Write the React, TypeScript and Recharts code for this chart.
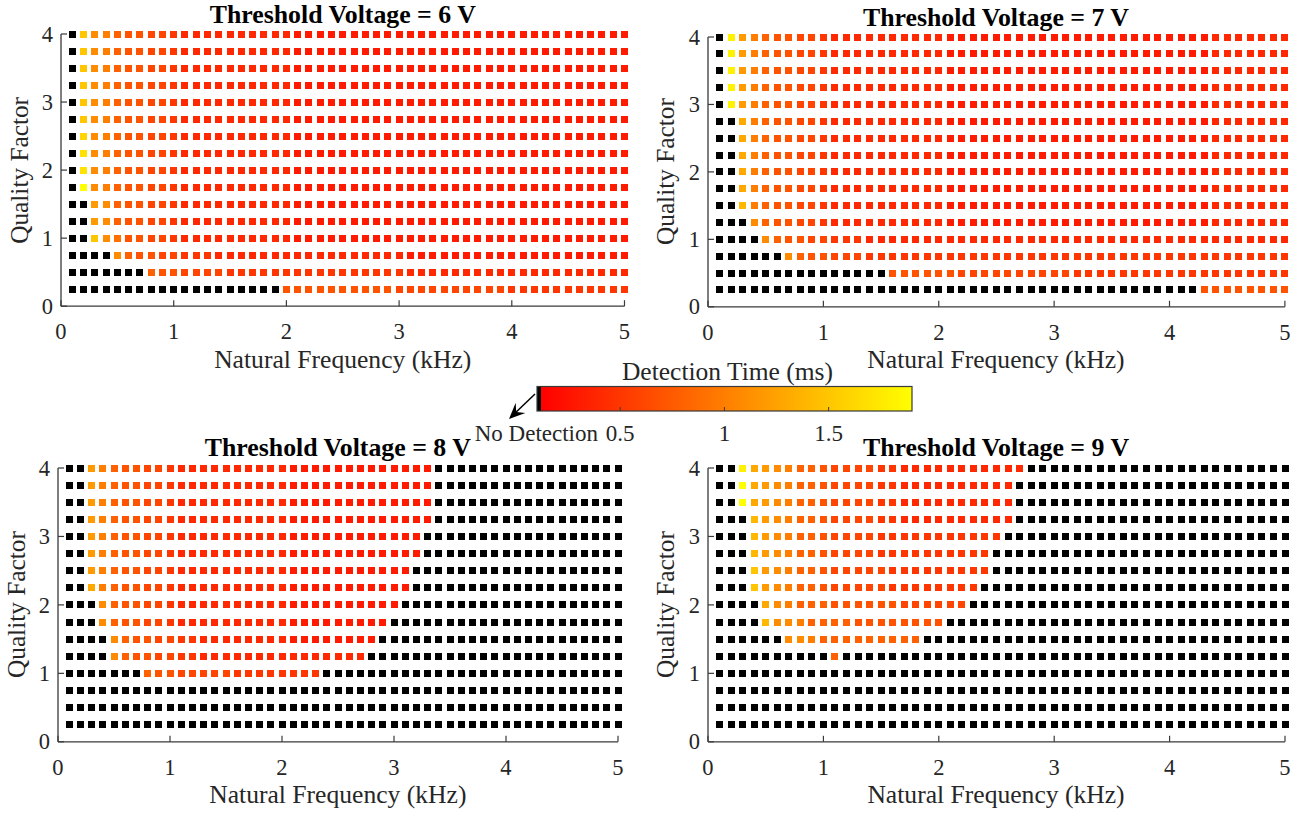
import React from 'react';
import { ScatterChart, Scatter, XAxis, YAxis } from 'recharts';

// Natural frequency grid (kHz) and quality factor grid
const frequencies = [
  0.1, 0.2, 0.3, 0.4, 0.5, 0.6, 0.7, 0.8, 0.9, 1.0,
  1.1, 1.2, 1.3, 1.4, 1.5, 1.6, 1.7, 1.8, 1.9, 2.0,
  2.1, 2.2, 2.3, 2.4, 2.5, 2.6, 2.7, 2.8, 2.9, 3.0,
  3.1, 3.2, 3.3, 3.4, 3.5, 3.6, 3.7, 3.8, 3.9, 4.0,
  4.1, 4.2, 4.3, 4.4, 4.5, 4.6, 4.7, 4.8, 4.9, 5.0,
];
const qualityFactors = [4, 3.75, 3.5, 3.25, 3, 2.75, 2.5, 2.25, 2, 1.75, 1.5, 1.25, 1, 0.75, 0.5, 0.25];
const xTicks = [0, 1, 2, 3, 4, 5];
const yTicks = [0, 1, 2, 3, 4];
const colorbarTicks = [0.5, 1, 1.5];
const thresholdVoltages = [6, 7, 8, 9];

// Detection time per cell, one string per quality-factor row (Q = 4 ... 0.25),
// one character per frequency column (0.1 ... 5.0 kHz).
// '.' = no detection, 'A'..'S' = 0.1 .. 1.9 ms
const detection6V = [
  '.OKJHGGFFE DDDDDDDDDD CCCCCCCCCC CCCCCCCCCC CCCCCCCCCC',
  '.OKJHGGFFE DDDDDDDDDD CCCCCCCCCC CCCCCCCCCC CCCCCCCCCC',
  '.OKJHGGFFE DDDDDDDDDD CCCCCCCCCC CCCCCCCCCC CCCCCCCCCC',
  '.OKJHGGFFE DDDDDDDDDD CCCCCCCCCC CCCCCCCCCC CCCCCCCCCC',
  '.OKJHGGFFE DDDDDDDDDD CCCCCCCCCC CCCCCCCCCC CCCCCCCCCC',
  '.OKJHGGFFE DDDDDDDDDD CCCCCCCCCC CCCCCCCCCC CCCCCCCCCC',
  '.PKJHGGFFE DDDDDDDDDD CCCCCCCCCC CCCCCCCCCC CCCCCCCCCC',
  '.QKJHGGFFE DDDDDDDDDD CCCCCCCCCC CCCCCCCCCC CCCCCCCCCC',
  '.QKJHGGFFE DDDDDDDDDD CCCCCCCCCC CCCCCCCCCC CCCCCCCCCC',
  '.SKJHGGFFE DDDDDDDDDD CCCCCCCCCC CCCCCCCCCC CCCCCCCCCC',
  '..LKHGGFFE DDDDDDDDDD CCCCCCCCCC CCCCCCCCCC CCCCCCCCCC',
  '..LKHGGFFE DDDDDDDDDD CCCCCCCCCC CCCCCCCCCC CCCCCCCCCC',
  '..OKIGGFFE DDDDDDDDDD CCCCCCCCCC CCCCCCCCCC CCCCCCCCCC',
  '....KHGGFF EEEDDDDDDD DDDDDDDDDD CCCCCCCCCC CCCCCCCCCC',
  '.......HGG FFFFEEEEEE EEEEEEEEEE DDDDDDDDDD DDDDDDDDDD',
  '.......... .........G GGGGGGGGGF FFFFFFFFFE EEEEEEEEEE',
];

const detection7V = [
  '.RLJHGGFFE DDDDDDDDDD CCCCCCCCCC CCCCCCCCCC CCCDDDDDDD',
  '.RLJHGGFFE DDDDDDDDDD CCCCCCCCCC CCCCCCCCCC CCCDDDDDDD',
  '.RLJHGGFFE DDDDDDDDDD CCCCCCCCCC CCCCCCCCCC CCCDDDDDDD',
  '.RLJHGGFFE DDDDDDDDDD CCCCCCCCCC CCCCCCCCCC CCCDDDDDDD',
  '.RLJHGGFFE DDDDDDDDDD CCCCCCCCCC CCCCCCCCCC CCCDDDDDDD',
  '..MJHGGFFE DDDDDDDDDD CCCCCCCCCC CCCCCCCCCC CCCDDDDDDD',
  '..MJHGGFFE DDDDDDDDDD CCCCCCCCCC CCCCCCCCCC CCCDDDDDDD',
  '..MJHGGFFE DDDDDDDDDD CCCCCCCCCC CCCCCCCCCC CCCDDDDDDD',
  '..MJHGGFFE DDDDDDDDDD CCCCCCCCCC CCCCCCCCCC CCCDDDDDDD',
  '..MJHGGFFE DDDDDDDDDD CCCCCCCCCC CCCCCCCCCC CCCDDDDDDD',
  '..NJHGGFFE DDDDDDDDDD CCCCCCCCCC CCCCCCCCCC CCCDDDDDDD',
  '...KHGGFFE DDDDDDDDDD CCCCCCCCCC CCCCCCCCCC CCCDDDDDDD',
  '....KHGGFF EEEDDDDDDD DDDDDDDDDD DDDDDDDDDD DDDDDDDDDD',
  '......KHGG FFFEEEEEEE EEEEEEEEEE EEEEEEEEEE EEEEEEEEEE',
  '.......... .....GGGGG GFFFFFFFFF FEEEEEEEEE EEEEEEEEEE',
  '.......... .......... .......... .......... ..GGGGGGGG',
];

const detection8V = [
  '..LJHGGFFE DDDDDDDDDD CCCCCCCCCC CCC....... ..........',
  '..LJHGGFFE DDDDDDDDDD CCCCCCCCCC CCC....... ..........',
  '..LJHGGFFE DDDDDDDDDD CCCCCCCCCC CCC....... ..........',
  '..LJHGGFFE DDDDDDDDDD CCCCCCCCCC CCC....... ..........',
  '..LJHGGFFE DDDDDDDDDD CCCCCCCCCC CC........ ..........',
  '..LJHGGFFE DDDDDDDDDD CCCCCCCCCC CC........ ..........',
  '..LJHGGFFE DDDDDDDDDD CCCCCCCCCC C......... ..........',
  '..MJHGGFFE DDDDDDDDDD CCCCCCCCCC C......... ..........',
  '...KHGGFFE DDDDDDDDDD CCCCCCCCCC .......... ..........',
  '...KHGGFFE DDDDDDDDDD CCCCCCCCC. .......... ..........',
  '....KHGGFF EEDDDDDDDD CCCCCCCC.. .......... ..........',
  '....KHGGFF EEDDDDDDDD DDDDDDD... .......... ..........',
  '.......HGG FFFFFEEEEE EEE....... .......... ..........',
  '.......... .......... .......... .......... ..........',
  '.......... .......... .......... .......... ..........',
  '.......... .......... .......... .......... ..........',
];

const detection9V = [
  '..RMLKJHHG FFFFEEDDDD DDDDDDD... .......... ..........',
  '..SMLKJHHG FFFFEEDDDD DDDDDD.... .......... ..........',
  '..SMLKJHHG FFFFEEDDDD DDDDDD.... .......... ..........',
  '...NLKJHHG FFFFEEDDDD DDDDDD.... .......... ..........',
  '...NLKJHHG FFFFEEEEEE EEEEE..... .......... ..........',
  '...NLKJHHG FFFFEEEEEE EEEE...... .......... ..........',
  '...OLKJHHG FFFFFEEEEE EEEE...... .......... ..........',
  '...OLKJHHG FFFFFEEEEE EEE....... .......... ..........',
  '....MKJHHH GGGGGGFFFF FF........ .......... ..........',
  '....NKKJHH HHGGGGGGGG .......... .......... ..........',
  '......KKJH HHHHHHHH.. .......... .......... ..........',
  '.......... H......... .......... .......... ..........',
  '.......... .......... .......... .......... ..........',
  '.......... .......... .......... .......... ..........',
  '.......... .......... .......... .......... ..........',
  '.......... .......... .......... .......... ..........',
];

const panelRows = [detection6V, detection7V, detection8V, detection9V];

// ---------- styling / layout ----------
const FONT = 'Liberation Serif, Times New Roman, serif';
const AXIS_COLOR = '#3a3a3a';
const TEXT_COLOR = '#262626';
const CLIM_LOW = 0.12;
const CLIM_HIGH = 1.9;

const panelBoxes = [
  { x0: 61, x1: 624.5, y0: 34.3, y1: 306.5, titleY: 23, xLabelY: 368, yLabelX: 28 },
  { x0: 707.5, x1: 1284.4, y0: 36.7, y1: 306.5, titleY: 26, xLabelY: 368, yLabelX: 674 },
  { x0: 57.8, x1: 617.8, y0: 467.7, y1: 741.5, titleY: 456, xLabelY: 803, yLabelX: 25 },
  { x0: 707.5, x1: 1284.5, y0: 467.7, y1: 741.5, titleY: 456, xLabelY: 803, yLabelX: 674 },
];

const colorbarBox = { x0: 537, xc: 541, x1: 912, y0: 386.5, y1: 411 };
const arrowStart = { x: 535, y: 394 };
const arrowTip = { x: 509, y: 419 };

function autumn(t: number): string {
  const r = Math.min(1, Math.max(0, (t - CLIM_LOW) / (CLIM_HIGH - CLIM_LOW)));
  return `rgb(255,${Math.round(255 * r)},0)`;
}

function buildPoints(rows: string[]) {
  const pts: { f: number; q: number; t: number; color: string }[] = [];
  rows.forEach((row, r) => {
    const cells = row.replace(/ /g, '');
    frequencies.forEach((f, c) => {
      const ch = cells[c];
      if (ch === undefined) return;
      const t = ch === '.' ? 0 : (ch.charCodeAt(0) - 64) * 0.1;
      pts.push({ f, q: qualityFactors[r], t, color: t === 0 ? '#000000' : autumn(t) });
    });
  });
  return pts;
}

const Square = (props: any) => {
  const { cx, cy, payload } = props;
  if (cx == null || cy == null) return null;
  return (
    <rect
      x={Math.round(cx - 3.5)}
      y={Math.round(cy - 3.5)}
      width={7}
      height={7}
      fill={payload?.color ?? props.fill}
    />
  );
};

function Panel({ index }: { index: number }) {
  const box = panelBoxes[index];
  const YW = 50;
  const TOP = 20;
  const RIGHT = 10;
  const XH = 50;
  const plotW = box.x1 - box.x0;
  const plotH = box.y1 - box.y0;
  const width = plotW + YW + RIGHT;
  const height = plotH + TOP + XH;
  const axisY = TOP + plotH;
  const axisX = YW;
  const data = buildPoints(panelRows[index]);

  const XTick = (p: any) => (
    <g>
      <line x1={p.x} x2={p.x} y1={axisY} y2={axisY - 6} stroke={AXIS_COLOR} strokeWidth={1.2} />
      <text x={p.x} y={axisY + 33} textAnchor="middle" style={{ fontFamily: FONT, fontSize: 22.5 }} fill={TEXT_COLOR}>
        {p.payload.value}
      </text>
    </g>
  );
  const YTick = (p: any) => (
    <g>
      <line x1={axisX} x2={axisX + 6} y1={p.y} y2={p.y} stroke={AXIS_COLOR} strokeWidth={1.2} />
      <text x={axisX - 8} y={p.y} dy="0.34em" textAnchor="end" style={{ fontFamily: FONT, fontSize: 22.5 }} fill={TEXT_COLOR}>
        {p.payload.value}
      </text>
    </g>
  );

  return (
    <div style={{ position: 'absolute', left: box.x0 - YW, top: box.y0 - TOP }}>
      <ScatterChart width={width} height={height} margin={{ top: TOP, right: RIGHT, bottom: 0, left: 0 }}>
        <XAxis
          type="number"
          dataKey="f"
          domain={[0, 5]}
          ticks={xTicks}
          interval={0}
          height={XH}
          tickLine={false}
          tickSize={0}
          tickMargin={0}
          axisLine={{ stroke: AXIS_COLOR, strokeWidth: 1.3 }}
          tick={XTick}
        />
        <YAxis
          type="number"
          dataKey="q"
          domain={[0, 4]}
          ticks={yTicks}
          interval={0}
          width={YW}
          tickLine={false}
          tickSize={0}
          tickMargin={0}
          axisLine={{ stroke: AXIS_COLOR, strokeWidth: 1.3 }}
          tick={YTick}
        />
        <Scatter data={data} isAnimationActive={false} shape={Square} />
      </ScatterChart>
    </div>
  );
}

function ArrowHead() {
  const dx = arrowTip.x - arrowStart.x;
  const dy = arrowTip.y - arrowStart.y;
  const len = Math.hypot(dx, dy);
  const ux = dx / len;
  const uy = dy / len;
  const nx = -uy;
  const ny = ux;
  const L = 16;
  const W = 7;
  const notch = 10;
  const bx = arrowTip.x - L * ux;
  const by = arrowTip.y - L * uy;
  const pts = [
    [arrowTip.x, arrowTip.y],
    [bx + W * nx, by + W * ny],
    [arrowTip.x - notch * ux, arrowTip.y - notch * uy],
    [bx - W * nx, by - W * ny],
  ];
  return (
    <g>
      <line
        x1={arrowStart.x}
        y1={arrowStart.y}
        x2={arrowTip.x - notch * ux}
        y2={arrowTip.y - notch * uy}
        stroke="#000"
        strokeWidth={1.5}
      />
      <polygon points={pts.map((p) => p.join(',')).join(' ')} fill="#000" />
    </g>
  );
}

function Overlay() {
  const cb = colorbarBox;
  const cbX = (v: number) => cb.xc + ((v - CLIM_LOW) / (CLIM_HIGH - CLIM_LOW)) * (cb.x1 - cb.xc);
  return (
    <svg
      width={1304}
      height={814}
      style={{ position: 'absolute', left: 0, top: 0, pointerEvents: 'none' }}
    >
      <defs>
        <linearGradient id="autumnGrad" x1="0" y1="0" x2="1" y2="0">
          <stop offset="0%" stopColor="#ff0000" />
          <stop offset="100%" stopColor="#ffff00" />
        </linearGradient>
      </defs>
      {panelBoxes.map((b, i) => (
        <g key={i}>
          <text
            x={(b.x0 + b.x1) / 2}
            y={b.titleY}
            textAnchor="middle"
            style={{ fontFamily: FONT, fontSize: 25.8, fontWeight: 'bold' }}
            fill="#000"
          >
            {`Threshold Voltage = ${thresholdVoltages[i]} V`}
          </text>
          <text
            x={(b.x0 + b.x1) / 2}
            y={b.xLabelY}
            textAnchor="middle"
            style={{ fontFamily: FONT, fontSize: 25.6 }}
            fill={TEXT_COLOR}
          >
            Natural Frequency (kHz)
          </text>
          <text
            transform={`translate(${b.yLabelX},${(b.y0 + b.y1) / 2}) rotate(-90)`}
            textAnchor="middle"
            style={{ fontFamily: FONT, fontSize: 25.3 }}
            fill={TEXT_COLOR}
          >
            Quality Factor
          </text>
        </g>
      ))}
      {/* colorbar */}
      <text x={(cb.x0 + cb.x1) / 2 + 3} y={380} textAnchor="middle" style={{ fontFamily: FONT, fontSize: 25.5 }} fill={TEXT_COLOR}>
        Detection Time (ms)
      </text>
      <rect x={cb.x0} y={cb.y0} width={cb.xc - cb.x0} height={cb.y1 - cb.y0} fill="#000" />
      <rect x={cb.xc} y={cb.y0} width={cb.x1 - cb.xc} height={cb.y1 - cb.y0} fill="url(#autumnGrad)" />
      <rect x={cb.x0} y={cb.y0} width={cb.x1 - cb.x0} height={cb.y1 - cb.y0} fill="none" stroke={AXIS_COLOR} strokeWidth={1.2} />
      {colorbarTicks.map((v) => (
        <g key={v}>
          <line x1={cbX(v)} x2={cbX(v)} y1={cb.y1} y2={cb.y1 - 4} stroke={AXIS_COLOR} strokeWidth={1} />
          <text x={cbX(v)} y={441} textAnchor="middle" style={{ fontFamily: FONT, fontSize: 23 }} fill={TEXT_COLOR}>
            {v}
          </text>
        </g>
      ))}
      <text x={598} y={441} textAnchor="end" style={{ fontFamily: FONT, fontSize: 23 }} fill={TEXT_COLOR}>
        No Detection
      </text>
      <ArrowHead />
    </svg>
  );
}

export default function App() {
  return (
    <div style={{ position: 'absolute', left: 0, top: 0, width: 1304, height: 814, background: '#fff' }}>
      {[0, 1, 2, 3].map((i) => (
        <Panel key={i} index={i} />
      ))}
      <Overlay />
    </div>
  );
}
